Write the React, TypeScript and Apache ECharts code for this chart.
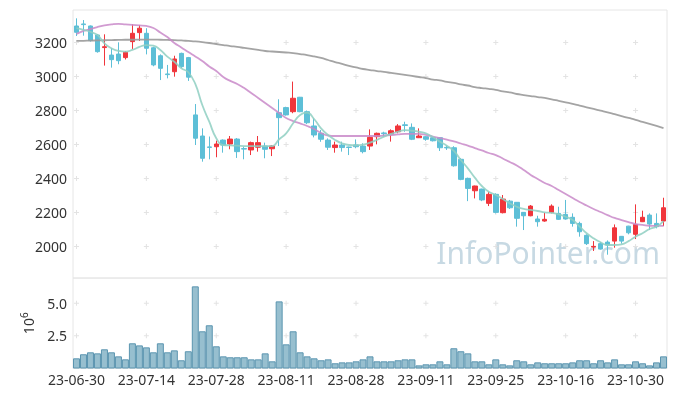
import React, { useEffect, useRef } from "react";
import * as echarts from "echarts";

const dates = [
  "23-06-30",
  "23-07-03","23-07-04","23-07-05","23-07-06","23-07-07","23-07-10","23-07-11","23-07-12","23-07-13","23-07-14",
  "23-07-17","23-07-18","23-07-19","23-07-20","23-07-21","23-07-24","23-07-25","23-07-26","23-07-27","23-07-28","23-07-31",
  "23-08-01","23-08-02","23-08-03","23-08-04","23-08-07","23-08-08","23-08-09","23-08-10","23-08-11","23-08-14","23-08-16",
  "23-08-17","23-08-18","23-08-21","23-08-22","23-08-23","23-08-24","23-08-25","23-08-28","23-08-29","23-08-30","23-08-31",
  "23-09-01","23-09-04","23-09-05","23-09-06","23-09-07","23-09-08","23-09-11","23-09-12","23-09-13","23-09-14","23-09-15",
  "23-09-18","23-09-19","23-09-20","23-09-21","23-09-22","23-09-25","23-09-26","23-09-27",
  "23-10-04","23-10-05","23-10-06","23-10-10","23-10-11","23-10-12","23-10-13","23-10-16","23-10-17","23-10-18","23-10-19",
  "23-10-20","23-10-23","23-10-24","23-10-25","23-10-26","23-10-27","23-10-30","23-10-31",
  "23-11-01","23-11-02","23-11-03",
];

const opens = [
  3297, 3309, 3297, 3244, 3170, 3126, 3132, 3111, 3205, 3258,
  3254, 3169, 3122, 3015, 3028, 3136, 3111, 2774, 2650, 2586,
  2587, 2626, 2603, 2632, 2576, 2568, 2584, 2591, 2575, 2787,
  2817, 2793, 2878, 2793, 2709, 2666, 2626, 2582, 2597, 2585,
  2597, 2591, 2591, 2646, 2668, 2662, 2675, 2716, 2701, 2640,
  2646, 2640, 2640, 2583, 2581, 2513, 2401, 2328, 2338, 2254,
  2307, 2199, 2267, 2260, 2201, 2181, 2162, 2150, 2201, 2195,
  2189, 2172, 2136, 2066, 1997, 2017, 2026, 2032, 2060, 2120,
  2072, 2146, 2185, 2136, 2150,
];
const closes = [
  3260, 3305, 3211, 3146, 3175, 3099, 3093, 3142, 3254, 3284,
  3166, 3068, 3048, 3011, 3103, 3058, 2996, 2637, 2519, 2583,
  2603, 2597, 2632, 2558, 2573, 2611, 2611, 2572, 2591, 2758,
  2774, 2872, 2793, 2728, 2656, 2631, 2584, 2597, 2582, 2583,
  2587, 2558, 2642, 2666, 2664, 2681, 2709, 2712, 2631, 2650,
  2631, 2622, 2581, 2580, 2475, 2395, 2342, 2356, 2274, 2307,
  2201, 2279, 2228, 2166, 2181, 2238, 2146, 2160, 2238, 2160,
  2162, 2136, 2087, 2017, 2001, 1985, 2009, 2110, 2032, 2081,
  2130, 2172, 2132, 2117, 2228,
];
const lows = [
  3238, 3240, 3205, 3140, 3064, 3052, 3072, 3100, 3162, 3209,
  3130, 3060, 2979, 2989, 2999, 3050, 2974, 2597, 2499, 2513,
  2525, 2552, 2572, 2521, 2513, 2538, 2558, 2519, 2532, 2591,
  2770, 2784, 2790, 2720, 2642, 2616, 2568, 2552, 2558, 2538,
  2578, 2548, 2568, 2601, 2646, 2617, 2666, 2675, 2626, 2638,
  2622, 2618, 2562, 2568, 2470, 2390, 2267, 2283, 2267, 2238,
  2195, 2195, 2221, 2117, 2097, 2178, 2117, 2146, 2195, 2156,
  2158, 2117, 2058, 2009, 1974, 1982, 1952, 1993, 2017, 2072,
  2044, 2144, 2097, 2107, 2120,
];
const highs = [
  3342, 3332, 3300, 3250, 3248, 3166, 3201, 3150, 3307, 3303,
  3284, 3175, 3130, 3068, 3122, 3140, 3115, 2838, 2695, 2647,
  2623, 2630, 2650, 2638, 2587, 2617, 2650, 2611, 2595, 2866,
  2822, 2970, 2880, 2800, 2754, 2685, 2636, 2617, 2617, 2587,
  2630, 2607, 2689, 2670, 2675, 2689, 2720, 2734, 2724, 2695,
  2650, 2645, 2642, 2593, 2590, 2520, 2405, 2358, 2340, 2322,
  2313, 2303, 2274, 2262, 2203, 2244, 2181, 2199, 2248, 2234,
  2274, 2195, 2146, 2072, 2032, 2026, 2036, 2130, 2062, 2122,
  2248, 2211, 2195, 2195, 2287,
];

const ma5 = [
  3284, 3274, 3262, 3244, 3195, 3166, 3150, 3146, 3156, 3174,
  3185, 3181, 3156, 3117, 3087, 3048, 3025, 2956, 2832, 2734,
  2637, 2597, 2595, 2593, 2591, 2591, 2591, 2591, 2591, 2631,
  2666, 2725, 2774, 2787, 2750, 2695, 2656, 2627, 2607, 2597,
  2595, 2599, 2611, 2627, 2646, 2662, 2675, 2685, 2681, 2675,
  2666, 2644, 2617, 2593, 2562, 2509, 2460, 2405, 2356, 2322,
  2303, 2280, 2254, 2234, 2221, 2215, 2209, 2201, 2198, 2189,
  2175, 2156, 2117, 2078, 2048, 2025, 2009, 2009, 2013, 2032,
  2058, 2078, 2103, 2117, 2150,
];
const ma20 = [
  3250, 3268, 3279, 3291, 3300, 3306, 3309, 3306, 3303, 3300,
  3297, 3285, 3258, 3232, 3197, 3171, 3144, 3118, 3091, 3059,
  3032, 2997, 2974, 2956, 2932, 2903, 2874, 2844, 2815, 2785,
  2756, 2738, 2724, 2709, 2691, 2668, 2653, 2650, 2650, 2650,
  2650, 2650, 2650, 2650, 2653, 2656, 2659, 2662, 2662, 2662,
  2656, 2647, 2638, 2629, 2618, 2606, 2594, 2579, 2565, 2550,
  2538, 2518, 2497, 2477, 2450, 2421, 2397, 2374, 2356, 2332,
  2309, 2285, 2262, 2241, 2221, 2203, 2185, 2168, 2156, 2144,
  2132, 2127, 2122, 2121, 2121,
];
const ma120 = [
  3209, 3210, 3211, 3212, 3213, 3214, 3215, 3216, 3216, 3217,
  3217, 3217, 3216, 3215, 3214, 3212, 3209, 3206, 3202, 3197,
  3191, 3185, 3179, 3174, 3168, 3162, 3156, 3150, 3147, 3144,
  3141, 3138, 3132, 3126, 3118, 3109, 3097, 3085, 3074, 3062,
  3053, 3044, 3038, 3032, 3027, 3021, 3015, 3009, 3003, 2997,
  2991, 2982, 2977, 2968, 2962, 2953, 2947, 2938, 2932, 2927,
  2921, 2912, 2906, 2897, 2891, 2885, 2879, 2874, 2866, 2857,
  2848, 2839, 2829, 2819, 2809, 2799, 2789, 2778, 2767, 2756,
  2745, 2733, 2721, 2709, 2697,
];

const volumes = [
  0.78, 1.09, 1.24, 1.16, 1.47, 1.24, 0.93, 0.70, 1.93, 1.77,
  1.62, 1.24, 1.93, 1.24, 1.39, 0.63, 1.32, 6.29, 2.85, 3.31,
  1.70, 0.93, 0.86, 0.86, 0.86, 0.70, 0.70, 1.16, 0.55, 5.14,
  1.85, 2.85, 1.24, 0.93, 0.78, 0.63, 0.70, 0.40, 0.47, 0.47,
  0.55, 0.70, 0.93, 0.55, 0.55, 0.55, 0.63, 0.70, 0.70, 0.24,
  0.32, 0.32, 0.55, 0.32, 1.55, 1.32, 1.16, 0.55, 0.55, 0.32,
  0.70, 0.32, 0.24, 0.63, 0.55, 0.32, 0.47, 0.40, 0.40, 0.40,
  0.40, 0.47, 0.63, 0.63, 0.40, 0.63, 0.47, 0.70, 0.32, 0.32,
  0.55, 0.40, 0.24, 0.47, 0.93,
];

const priceTicks = [2000, 2200, 2400, 2600, 2800, 3000, 3200];
const volumeTicks = [2.5, 5.0];
const labelIndices = [0, 10, 20, 30, 40, 50, 60, 70, 80];

const FONT = "Noto Sans";
const UP = "#f0353b";
const DOWN = "#5dbfd7";

export default function App() {
  const ref = useRef<HTMLDivElement>(null);

  useEffect(() => {
    const chart = echarts.init(ref.current!, null, { renderer: "svg" });
    const candles = opens.map((o, i) => [o, closes[i], lows[i], highs[i]]);
    const priceCrosses: number[][] = [];
    labelIndices.forEach((ix) => priceTicks.forEach((v) => priceCrosses.push([ix, v])));
    const volCrosses: number[][] = [];
    labelIndices.forEach((ix) => volumeTicks.forEach((v) => volCrosses.push([ix, v])));
    const plus = "path://M2,0h1v2h2v1h-2v2h-1v-2h-2v-1h2z";

    chart.setOption({
      animation: false,
      textStyle: { fontFamily: FONT },
      grid: [
        { left: 73, right: 10, top: 10, height: 268, show: true, borderColor: "#e6e6e6", borderWidth: 1 },
        { left: 73, right: 10, top: 278, height: 90.5, show: true, borderColor: "#e6e6e6", borderWidth: 1 },
      ],
      xAxis: [
        {
          type: "category", gridIndex: 0, data: dates, boundaryGap: true,
          axisLine: { show: false }, axisTick: { show: false }, axisLabel: { show: false },
          splitLine: { show: false },
        },
        {
          type: "category", gridIndex: 1, data: dates, boundaryGap: true,
          axisLine: { show: false }, axisTick: { show: false },
          axisLabel: { interval: 9, color: "#333", fontSize: 14, margin: 4, fontFamily: FONT },
          splitLine: { show: false },
        },
      ],
      yAxis: [
        {
          type: "value", gridIndex: 0, min: 1815, max: 3391, splitNumber: 8,
          axisLine: { show: false }, axisTick: { show: false }, splitLine: { show: false },
          axisLabel: {
            color: "#333", fontSize: 14, margin: 6, showMinLabel: false, showMaxLabel: false, fontFamily: FONT,
            formatter: (v: number) => String(Math.round(v)),
          },
        },
        {
          type: "value", gridIndex: 1, min: 0, max: 6.93, interval: 2.5,
          axisLine: { show: false }, axisTick: { show: false }, splitLine: { show: false },
          axisLabel: {
            color: "#333", fontSize: 14, margin: 6, showMinLabel: false, showMaxLabel: false, fontFamily: FONT,
            formatter: (v: number) => (v === 0 ? "" : v.toFixed(1)),
          },
          name: "{a|10}{b|6}",
          nameLocation: "middle",
          nameRotate: 90,
          nameGap: 36,
          nameTextStyle: {
            color: "#333",
            rich: {
              a: { fontSize: 14, color: "#333", fontFamily: FONT },
              b: { fontSize: 10, color: "#333", fontFamily: FONT, verticalAlign: "top", padding: [0, 0, 8, 0] },
            },
          },
        },
      ],
      graphic: [
        {
          type: "text", right: 17, top: 237, z: 0, silent: true,
          style: { text: "InfoPointer.com", font: `30px '${FONT}'`, fill: "#c7d9e3" },
        },
      ],
      series: [
        {
          type: "scatter", xAxisIndex: 0, yAxisIndex: 0, data: priceCrosses, symbol: plus, symbolSize: 5,
          itemStyle: { color: "#dcdcdc" }, z: 1, silent: true,
        },
        {
          type: "scatter", xAxisIndex: 1, yAxisIndex: 1, data: volCrosses, symbol: plus, symbolSize: 5,
          itemStyle: { color: "#dcdcdc" }, z: 1, silent: true,
        },
        {
          type: "candlestick", xAxisIndex: 0, yAxisIndex: 0, data: candles, barWidth: 5, z: 3,
          itemStyle: { color: UP, color0: DOWN, borderColor: UP, borderColor0: DOWN, borderWidth: 1 },
        },
        {
          type: "line", xAxisIndex: 0, yAxisIndex: 0, data: ma120, smooth: true, showSymbol: false, z: 4,
          lineStyle: { color: "#9a9a9a", width: 1.8, opacity: 0.9 },
        },
        {
          type: "line", xAxisIndex: 0, yAxisIndex: 0, data: ma20, smooth: true, showSymbol: false, z: 4,
          lineStyle: { color: "#c98ac9", width: 1.8, opacity: 0.85 },
        },
        {
          type: "line", xAxisIndex: 0, yAxisIndex: 0, data: ma5, smooth: true, showSymbol: false, z: 4,
          lineStyle: { color: "#8fcfc2", width: 1.8, opacity: 0.85 },
        },
        {
          type: "bar", xAxisIndex: 1, yAxisIndex: 1, data: volumes, barCategoryGap: "0%", z: 3,
          itemStyle: { color: "#97bfcf", borderColor: "#5b95b0", borderWidth: 1 },
        },
      ],
    });
    return () => chart.dispose();
  }, []);

  return (
    <div
      ref={ref}
      style={{ position: "fixed", left: 0, top: 0, width: 677, height: 396 }}
    />
  );
}
